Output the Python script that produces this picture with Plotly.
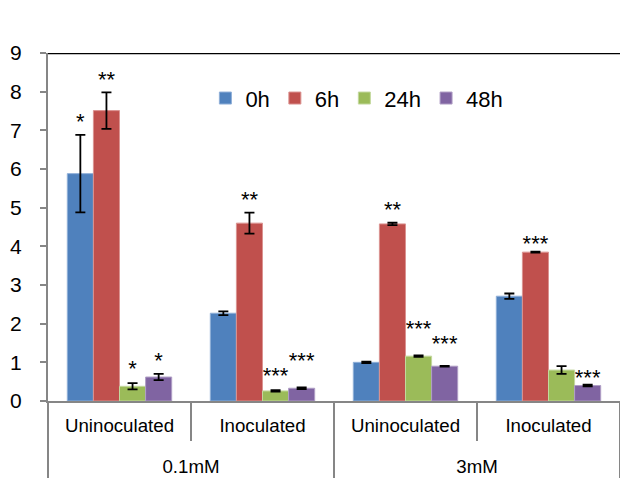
import plotly.graph_objects as go

outer = ["0.1mM", "0.1mM", "3mM", "3mM"]
inner = ["Uninoculated", "Inoculated", "Uninoculated", "Inoculated"]

series_names = ["0h", "6h", "24h", "48h"]
h0 = [5.88, 2.27, 1.00, 2.71]
h6 = [7.51, 4.60, 4.58, 3.85]
h24 = [0.38, 0.26, 1.16, 0.80]
h48 = [0.62, 0.33, 0.90, 0.40]
e0 = [1.00, 0.05, 0.02, 0.07]
e6 = [0.47, 0.27, 0.03, 0.01]
e24 = [0.08, 0.02, 0.02, 0.10]
e48 = [0.08, 0.02, 0.01, 0.02]
s0 = ["*", "", "", ""]
s6 = ["**", "**", "**", "***"]
s24 = ["*", "***", "***", ""]
s48 = ["*", "***", "***", "***"]
# extra height of significance labels above the error bar (data units)
lift0 = [0, 0, 0, 0]
lift6 = [0, 0, 0, -0.12]
lift24 = [0.05, 0.05, 0.35, 0]
lift48 = [0, 0.35, 0.25, -0.15]

colors = ["#4F81BD", "#C0504D", "#9BBB59", "#8064A2"]
edges = ["#8FAFD8", "#DB9391", "#C3D89E", "#B09FC6"]
values = [h0, h6, h24, h48]
errors = [e0, e6, e24, e48]
stars = [s0, s6, s24, s48]
lifts = [lift0, lift6, lift24, lift48]

FONT = "Liberation Sans, Arial, sans-serif"
# outer level shown one line lower, like the reference
x = [["<br>" + o for o in outer], inner]

fig = go.Figure()
for name, v, e, c, ec in zip(series_names, values, errors, colors, edges):
    fig.add_trace(go.Bar(
        x=x, y=v, name=name,
        marker=dict(color=c, line=dict(color=ec, width=1)),
        error_y=dict(type="data", array=e, visible=True, color="black",
                     thickness=1.8, width=5),
    ))
for name, v, e, s, lf in zip(series_names, values, errors, stars, lifts):
    fig.add_trace(go.Scatter(
        x=x, y=[a + b + c for a, b, c in zip(v, e, lf)], mode="text", text=s,
        textposition="top center", showlegend=False, hoverinfo="skip",
        textfont=dict(family=FONT, size=22, color="black"),
    ))

fig.update_layout(
    width=620, height=480,
    margin=dict(l=48, r=0, t=53, b=79),
    paper_bgcolor="white", plot_bgcolor="white",
    barmode="group", bargap=0.27, bargroupgap=0,
    scattermode="group", scattergap=0.27,
    font=dict(family=FONT, color="black"),
    legend=dict(orientation="h", x=0.54, xanchor="center", y=0.87,
                yanchor="middle", font=dict(size=22), itemwidth=30,
                bgcolor="rgba(0,0,0,0)"),
    showlegend=True,
)
fig.update_xaxes(
    type="multicategory", showline=True, linecolor="#868686", linewidth=2,
    ticks="outside", ticklen=38, tickcolor="#868686", tickwidth=2,
    showdividers=True, dividercolor="#868686", dividerwidth=2,
    tickfont=dict(size=18.7, color="black"), showgrid=False,
    ticklabelstandoff=7,
)
fig.update_yaxes(
    range=[0, 9], dtick=1, showline=True, linecolor="#868686", linewidth=2,
    ticks="outside", ticklen=6, tickcolor="#868686", tickwidth=2,
    tickfont=dict(size=21, color="black"), showgrid=False, zeroline=False,
    ticklabelstandoff=14,
)
fig.add_shape(type="line", xref="paper", yref="y", x0=0, x1=1, y0=9, y1=9,
              line=dict(color="black", width=2.5))

fig.write_html("out.html")
